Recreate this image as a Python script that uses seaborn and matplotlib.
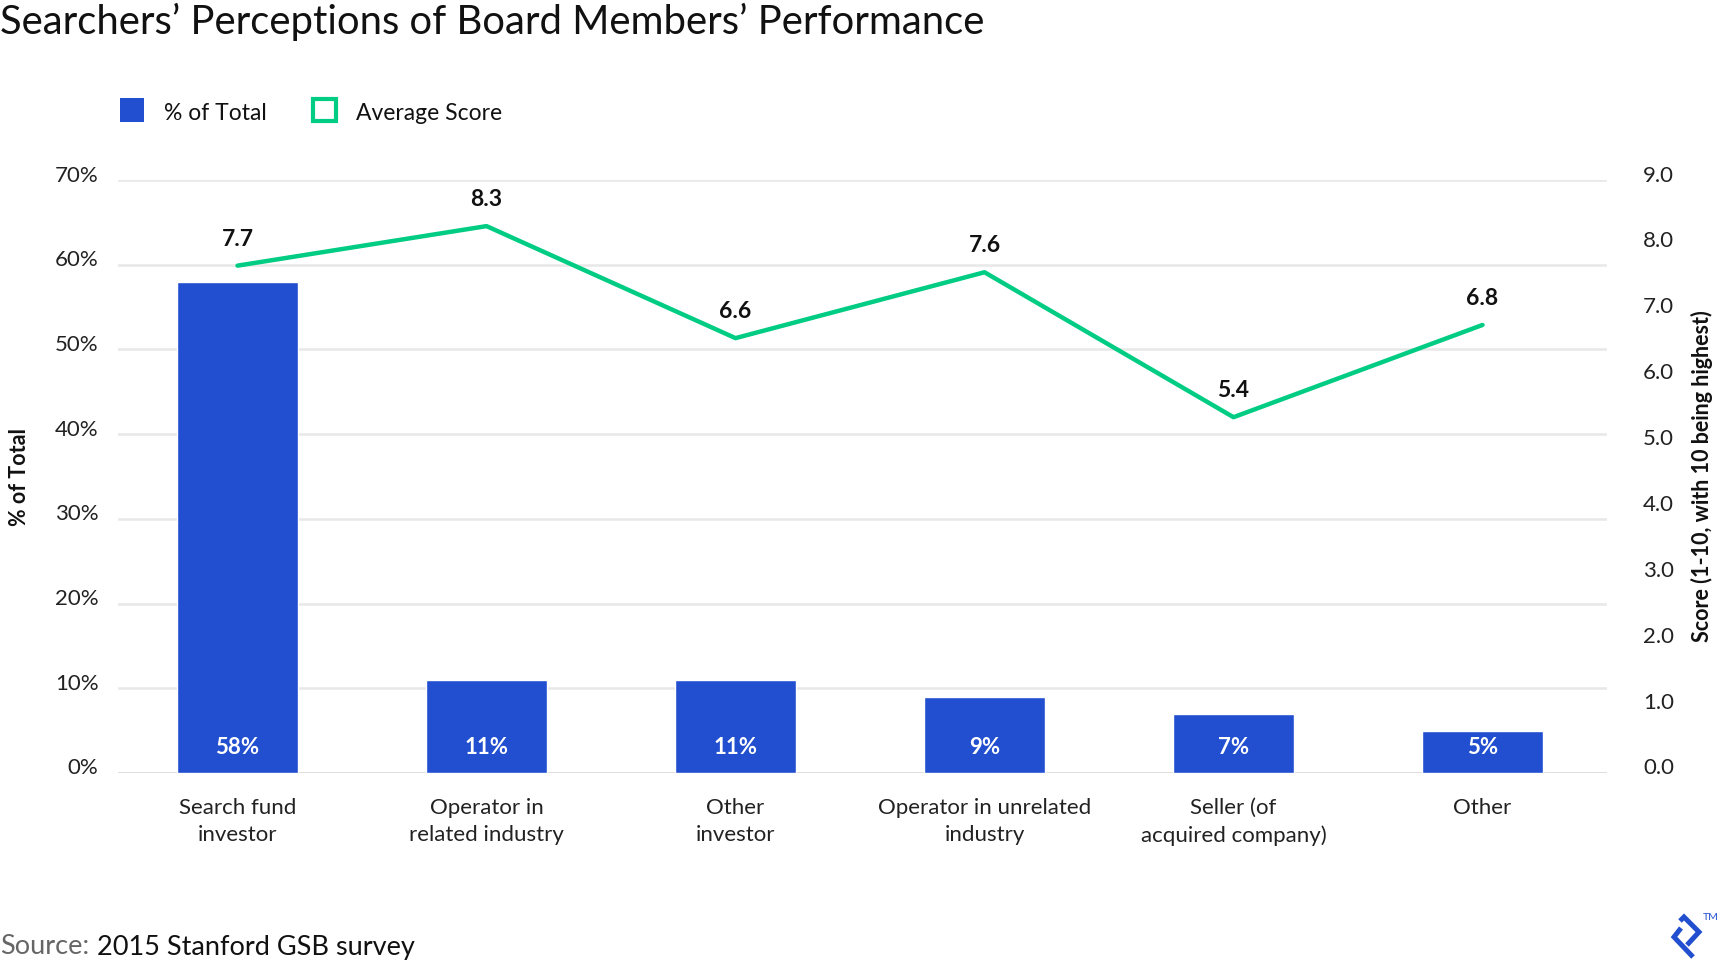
import numpy as np
import pandas as pd
import seaborn as sns
import matplotlib.pyplot as plt
import matplotlib.transforms as mtransforms
from matplotlib.lines import Line2D

categories = ["Search fund\ninvestor", "Operator in\nrelated industry", "Other\ninvestor",
              "Operator in unrelated\nindustry", "Seller (of\nacquired company)", "Other"]
pct_total = [58, 11, 11, 9, 7, 5]
avg_score = [7.7, 8.3, 6.6, 7.6, 5.4, 6.8]
left_ticks = [0, 10, 20, 30, 40, 50, 60, 70]
right_ticks = [0, 1, 2, 3, 4, 5, 6, 7, 8, 9]

blue = "#214fcf"
green = "#00cc83"
dark = "#111111"

sns.set_theme(style="white")
plt.rcParams["font.family"] = ["Lato", "DejaVu Sans"]

df = pd.DataFrame({"cat": categories, "pct": pct_total, "score": avg_score})

W, H = 1720, 964
fig = plt.figure(figsize=(W / 100, H / 100), dpi=100)
ax = fig.add_axes([118 / W, 1 - 773 / H, (1607 - 118) / W, (773 - 180) / H])

sns.barplot(data=df, x="cat", y="pct", color=blue, width=0.485, saturation=1, ax=ax, zorder=2)
ax.set_ylim(0, 70)
ax.set_xlim(-0.48, 5.5)
ax.set_yticks(left_ticks)
ax.set_yticklabels([f"{t}%" for t in left_ticks], fontsize=16, color="#222222")
ax.set_xticks(range(len(categories)))
ax.set_xticklabels(categories, fontsize=16, color="#222222", linespacing=1.45)
ax.grid(axis="y", color="#e8e8e8", linewidth=1.8, zorder=0)
ax.set_axisbelow(True)
ax.set_xlabel("")
ax.set_ylabel("% of Total", fontsize=15.5, fontweight="bold", color=dark, labelpad=18)
ax.tick_params(axis="x", pad=18, length=0)
ax.tick_params(axis="y", length=0, pad=14)
for s in ax.spines.values():
    s.set_visible(False)
ax.axhline(0, color="#dddddd", linewidth=2, zorder=1)

shift = mtransforms.ScaledTranslation(0, 0.065, fig.dpi_scale_trans)
for lab in ax.get_yticklabels():
    lab.set_transform(lab.get_transform() + shift)

for i, v in enumerate(pct_total):
    ax.text(i, 3.0, f"{v}%", ha="center", va="center", color="white",
            fontsize=16, fontweight="bold", zorder=3)

ax2 = ax.twinx()
sns.lineplot(x=np.arange(len(avg_score)), y=avg_score, color=green, linewidth=3.2, ax=ax2)
ax2.set_ylim(0, 9)
ax2.set_yticks(right_ticks)
ax2.set_yticklabels([f"{t:.1f}" for t in right_ticks], fontsize=16, color="#222222")
ax2.tick_params(axis="y", length=0, pad=26)
ax2.set_ylabel("Score (1-10, with 10 being highest)", fontsize=15.5, fontweight="bold",
               color=dark, labelpad=12)
for s in ax2.spines.values():
    s.set_visible(False)
ax2.grid(False)
for lab in ax2.get_yticklabels():
    lab.set_transform(lab.get_transform() + shift)
for i, v in enumerate(avg_score):
    ax2.annotate(f"{v}", (i, v), xytext=(0, 19), textcoords="offset points",
                 ha="center", va="center", fontsize=16.5, fontweight="bold", color=dark)

fig.text(0.0, 1 - 22 / H, "Searchers’ Perceptions of Board Members’ Performance",
         fontsize=28.8, color=dark, ha="left", va="center")

# legend
fig.patches.append(plt.Rectangle((120 / W, 1 - 122 / H), 24 / W, 24 / H,
                                 transform=fig.transFigure, facecolor=blue, edgecolor="none"))
fig.text(164 / W, 1 - 113 / H, "% of Total", fontsize=16.5, color=dark, va="center")
fig.patches.append(plt.Rectangle((313 / W, 1 - 121 / H), 23 / W, 22 / H,
                                 transform=fig.transFigure, facecolor="none",
                                 edgecolor=green, linewidth=3))
fig.text(356 / W, 1 - 113 / H, "Average Score", fontsize=16.5, color=dark, va="center")

# source
src1 = fig.text(0.0, 1 - 947 / H, "Source:", fontsize=19.5, color="#666666", va="center")
r = fig.canvas.get_renderer()
x1 = src1.get_window_extent(r).x1
fig.text((x1 + 8) / W, 1 - 947 / H, "2015 Stanford GSB survey", fontsize=19.5,
         color=dark, va="center")

# logo
def px(x, y):
    return x / W, 1 - y / H

for pts in ([(1680, 921), (1684, 917), (1699, 932), (1687, 945)],
            [(1681, 928), (1674, 937), (1693, 957)]):
    xs, ys = zip(*[px(*p) for p in pts])
    fig.add_artist(Line2D(xs, ys, color=blue, linewidth=3.6, solid_capstyle="butt",
                          solid_joinstyle="miter", transform=fig.transFigure))
fig.text(1703 / W, 1 - 917 / H, "TM", fontsize=7.5, color=blue, va="center")

fig.savefig("out.png", dpi=100)
